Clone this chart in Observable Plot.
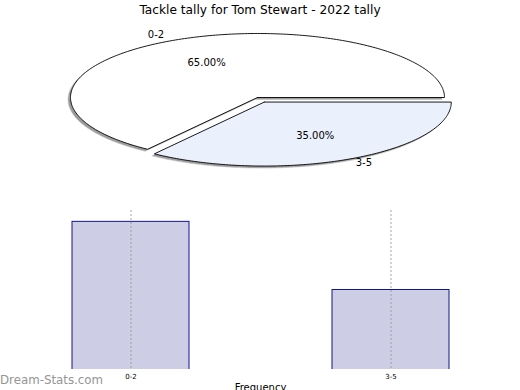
<!DOCTYPE html>
<html>
<head>
<meta charset="utf-8">
<script src="https://cdn.jsdelivr.net/npm/d3@7"></script>
<script src="https://cdn.jsdelivr.net/npm/@observablehq/plot@0.6"></script>
<style>
  html, body { margin: 0; padding: 0; background: #fff; }
  #wrap { position: relative; width: 520px; height: 390px; overflow: hidden; font-family: "DejaVu Sans", sans-serif; }
  #title { position: absolute; left: 0; top: 2px; width: 520px; text-align: center; font-size: 12.2px; line-height: 16px; color: #000; }
  #pie { position: absolute; left: 0; top: 20px; }
  #bar { position: absolute; left: 0; top: 200px; }
  #mark { position: absolute; left: 0; top: 372px; font-size: 11.8px; line-height: 16px; color: #959595; }
  svg { overflow: visible; }
</style>
</head>
<body>
<div id="wrap">
  <div id="title">Tackle tally for Tom Stewart - 2022 tally</div>
  <div id="pie"></div>
  <div id="bar"></div>
  <div id="mark">Dream-Stats.com</div>
</div>
<script>
const categories = ["0-2", "3-5"];
const counts = [13, 7];
const explode = [0, 0.08];
const sliceFills = ["#ffffff", "#eaf0fc"];
const titleText = "Tackle tally for Tom Stewart - 2022 tally";
const axisLabel = "Frequency";

const total = d3.sum(counts);
// matplotlib-style: start at 0 deg, counterclockwise
let acc = 0;
const slices = categories.map((c, i) => {
  const a0 = acc / total * 2 * Math.PI;
  acc += counts[i];
  const a1 = acc / total * 2 * Math.PI;
  const mid = (a0 + a1) / 2;
  const ox = explode[i] * Math.cos(mid), oy = explode[i] * Math.sin(mid);
  const steps = Math.max(8, Math.ceil((a1 - a0) / (Math.PI / 180)));
  const pts = [{x: ox, y: oy}];
  for (let k = 0; k <= steps; k++) {
    const t = a0 + (a1 - a0) * k / steps;
    pts.push({x: ox + Math.cos(t), y: oy + Math.sin(t)});
  }
  pts.push({x: ox, y: oy});
  return {cat: c, count: counts[i], pct: counts[i] / total * 100, mid, ox, oy, pts, fill: sliceFills[i]};
});

const marks = [];
// shadows
for (const s of slices) {
  marks.push(Plot.line(s.pts, {x: "x", y: "y", fill: "#9c9c9c", stroke: "#c4c4c4", strokeWidth: 0.6, dx: -2.5, dy: 2}));
}
for (const s of slices) {
  marks.push(Plot.line(s.pts, {x: "x", y: "y", fill: s.fill, stroke: "#000", strokeWidth: 0.9}));
}
const outer = slices.map(s => ({
  x: s.ox + 1.1 * Math.cos(s.mid), y: s.oy + 1.1 * Math.sin(s.mid), text: s.cat,
  anchor: Math.cos(s.mid) < 0 ? "end" : "start"
}));
const inner = slices.map(s => ({
  x: s.ox + 0.6 * Math.cos(s.mid), y: s.oy + 0.6 * Math.sin(s.mid), text: s.pct.toFixed(2) + "%"
}));
marks.push(Plot.text(outer.filter(d => d.anchor === "end"), {x: "x", y: "y", text: "text", textAnchor: "end", fontSize: 10, fill: "#000"}));
marks.push(Plot.text(outer.filter(d => d.anchor === "start"), {x: "x", y: "y", text: "text", textAnchor: "start", fontSize: 10, fill: "#000", dx: -2, dy: -2}));
marks.push(Plot.text(inner, {x: "x", y: "y", text: "text", fontSize: 10, fill: "#000"}));

const pie = Plot.plot({
  width: 520, height: 170,
  margin: 0,
  style: {fontFamily: "DejaVu Sans", background: "transparent"},
  x: {domain: [-1, 1], range: [70, 444], axis: null},
  y: {domain: [-1, 1], range: [141, 13], axis: null},
  marks
});
document.getElementById("pie").appendChild(pie);

const barData = categories.map((c, i) => ({cat: c, count: counts[i]}));
const bar = Plot.plot({
  width: 520, height: 190,
  marginTop: 10, marginBottom: 21, marginLeft: 0, marginRight: 0,
  style: {fontFamily: "DejaVu Sans", background: "transparent"},
  x: {domain: categories, paddingInner: 0.55, paddingOuter: 0.275},
  y: {domain: [0, 14], axis: null},
  marks: [
    Plot.barY(barData, {x: "cat", y: "count", fill: "#cdcde5", stroke: "#14148c", strokeWidth: 1, insetBottom: -3, clip: true}),
    Plot.gridX({stroke: "#999", strokeOpacity: 0.9, strokeDasharray: "2,2", strokeWidth: 1}),
    Plot.axisX({tickSize: 0, tickPadding: 5, fontSize: 7, label: null}),
    Plot.text([axisLabel], {text: d => d, frameAnchor: "bottom", dy: 21, fontSize: 10, fill: "#000"})
  ]
});
document.getElementById("bar").appendChild(bar);
</script>
</body>
</html>
